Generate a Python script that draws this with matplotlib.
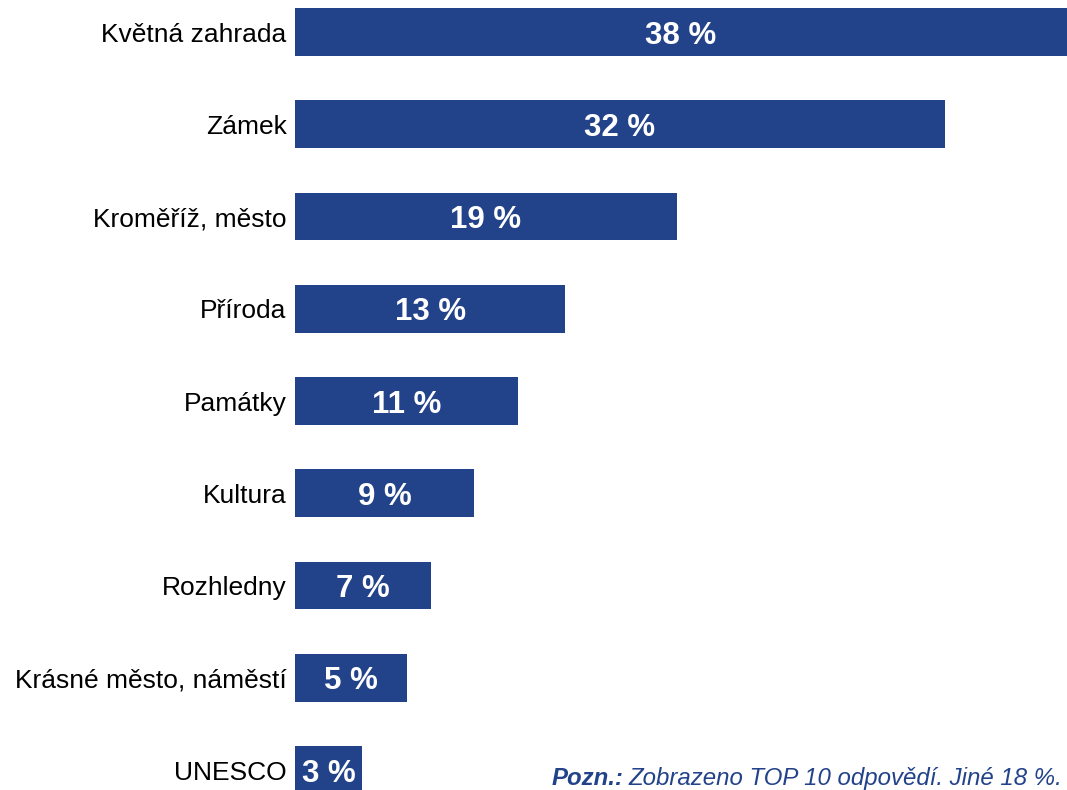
import matplotlib
matplotlib.use("Agg")
import matplotlib.pyplot as plt

categories = ["Květná zahrada", "Zámek", "Kroměříž, město", "Příroda", "Památky",
              "Kultura", "Rozhledny", "Krásné město, náměstí", "UNESCO"]
values = [38.0, 32.0, 18.8, 13.3, 11.0, 8.8, 6.7, 5.5, 3.3]
value_labels = ["38 %", "32 %", "19 %", "13 %", "11 %", "9 %", "7 %", "5 %", "3 %"]

BAR_COLOR = "#22428A"
W, H = 1067, 790
fig = plt.figure(figsize=(W / 100, H / 100), dpi=100)
plt.rcParams["font.family"] = ["Liberation Sans", "DejaVu Sans"]

ax = fig.add_axes([295 / W, 0, 772 / W, 1])
pos = list(range(len(categories)))
ax.barh(pos, values, height=0.52, color=BAR_COLOR)
ax.set_xlim(0, 38.0)
ax.set_ylim(8 + 20 / 92.25, -32 / 92.25)
ax.set_yticks(pos)
ax.set_yticklabels(categories, fontsize=19, color="black")
ax.tick_params(axis="y", length=0, pad=6)
ax.set_xticks([])
for s in ax.spines.values():
    s.set_visible(False)

for p, v, lab in zip(pos, values, value_labels):
    ax.text(v / 2, p, lab, ha="center", va="center_baseline", color="white",
            fontsize=22.5, fontweight="bold")

fig.text(1062 / W, 5 / H, "Zobrazeno TOP 10 odpovědí. Jiné 18 %.", ha="right",
         va="baseline", fontsize=17.3, style="italic", color=BAR_COLOR)
t = fig.texts[-1]
fig.canvas.draw()
bb = t.get_window_extent()
fig.text(bb.x0 / W - 5 / W, 5 / H, "Pozn.:", ha="right", va="baseline",
         fontsize=17.3, style="italic", fontweight="bold", color=BAR_COLOR)

fig.savefig("out.png", dpi=100)
